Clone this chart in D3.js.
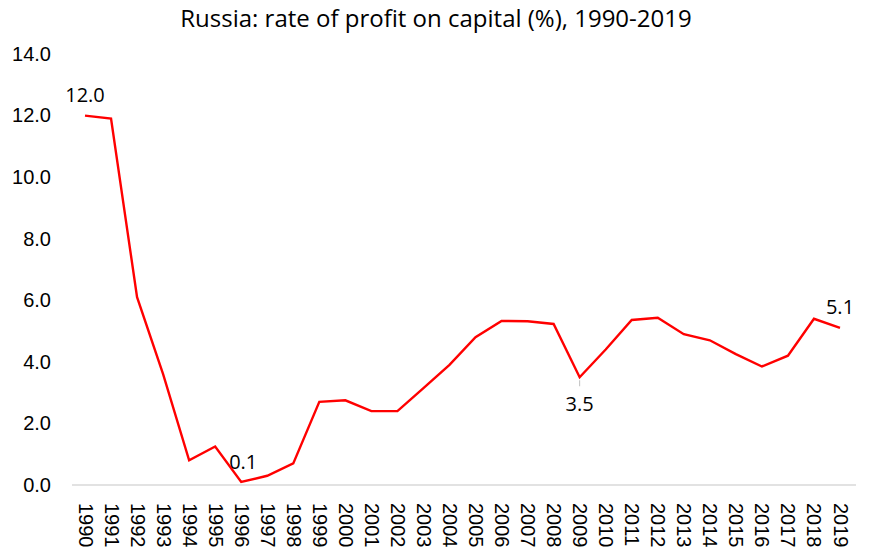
<!DOCTYPE html>
<html lang="en">
<head>
<meta charset="UTF-8">
<title>Russia: rate of profit on capital</title>
<script src="https://d3js.org/d3.v7.min.js"></script>
<style>
    body { margin: 0; background: #ffffff; }
    svg { display: block; font-family: "Open Sans", sans-serif; }
    .axis-text { font-size: 20px; fill: #000000; }
    .data-label { font-size: 20px; fill: #000000; }
    .title { font-size: 24px; fill: #000000; }
    .line { fill: none; stroke: #ff0000; stroke-width: 2.4; }
</style>
</head>
<body>
<div id="chart"></div>
<script>
    const years = d3.range(1990, 2020).map(String);
    const profitRate = [12.0, 11.9, 6.1, 3.6, 0.8, 1.25, 0.1, 0.3, 0.7, 2.7,
                        2.75, 2.4, 2.4, 3.15, 3.9, 4.8, 5.33, 5.32, 5.23, 3.5,
                        4.4, 5.36, 5.43, 4.9, 4.7, 4.25, 3.85, 4.2, 5.4, 5.1];
    const yTicks = [0, 2, 4, 6, 8, 10, 12, 14];
    // labelled points: year, position above/below
    const labelled = [
        { year: "1990", pos: "above" },
        { year: "1996", pos: "above" },
        { year: "2009", pos: "below" },
        { year: "2019", pos: "above" }
    ];

    const data = years.map((y, i) => ({ year: y, value: profitRate[i] }));

    const W = 878, H = 558;
    const svg = d3.select("#chart").append("svg")
        .attr("width", W)
        .attr("height", H);

    const x = d3.scalePoint()
        .domain(years)
        .range([85, 840]);

    const y = d3.scaleLinear()
        .domain([0, 14])
        .range([485, 54]);

    svg.append("text")
        .attr("class", "title")
        .attr("x", 436)
        .attr("y", 27)
        .attr("text-anchor", "middle")
        .text("Russia: rate of profit on capital (%), 1990-2019");

    // y axis labels
    const yAxis = svg.append("g")
        .attr("transform", "translate(51,0)")
        .call(d3.axisLeft(y).tickValues(yTicks).tickFormat(d3.format(".1f")).tickSize(0).tickPadding(0));
    yAxis.select(".domain").remove();
    yAxis.selectAll("text").attr("class", "axis-text").attr("font-family", null).attr("font-size", null);

    // x axis
    const xAxis = svg.append("g")
        .attr("transform", `translate(0,${y(0)})`)
        .call(d3.axisBottom(x).tickSize(0).tickPadding(0));
    xAxis.select(".domain").remove();
    xAxis.append("line")
        .attr("x1", 72).attr("x2", 856)
        .attr("stroke", "#d9d9d9").attr("stroke-width", 1.5);
    xAxis.selectAll(".tick text")
        .attr("class", "axis-text")
        .attr("font-family", null).attr("font-size", null)
        .attr("text-anchor", "start")
        .attr("dy", "0.35em")
        .attr("transform", "translate(0,18) rotate(90)");

    const line = d3.line()
        .x(d => x(d.year))
        .y(d => y(d.value));

    svg.append("path")
        .datum(data)
        .attr("class", "line")
        .attr("d", line);

    // data labels
    labelled.forEach(l => {
        const d = data.find(p => p.year === l.year);
        const px = x(d.year), py = y(d.value);
        if (l.pos === "below") {
            svg.append("line")
                .attr("x1", px).attr("x2", px)
                .attr("y1", py + 3).attr("y2", py + 9)
                .attr("stroke", "#bfbfbf").attr("stroke-width", 1);
        }
        svg.append("text")
            .attr("class", "data-label")
            .attr("x", px + (l.year === "1996" ? 2 : 0))
            .attr("y", l.pos === "above" ? py - (l.year === "1996" ? 13 : 14) : py + 34)
            .attr("text-anchor", "middle")
            .text(d3.format(".1f")(d.value));
    });
</script>
</body>
</html>
